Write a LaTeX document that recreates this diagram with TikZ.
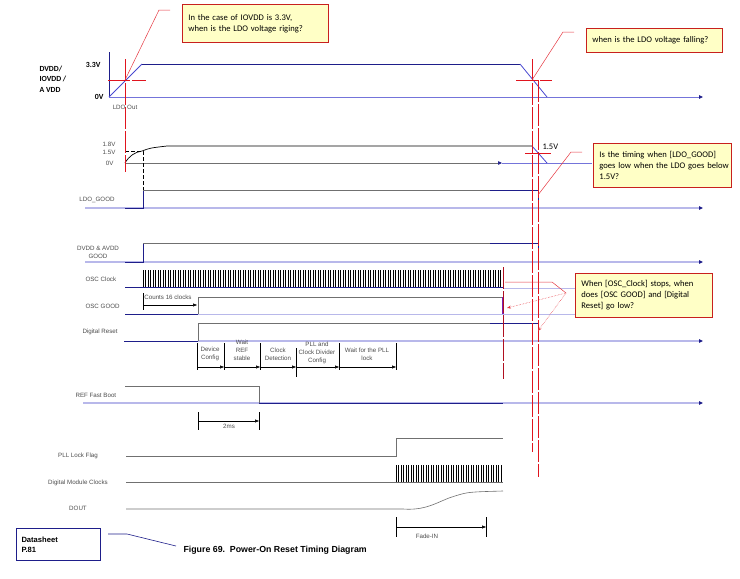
\documentclass[tikz,border=0pt]{standalone}
\usepackage{fontspec}
\setmainfont{Carlito}
\newfontfamily\arialfont{Liberation Sans}
\usetikzlibrary{arrows.meta}

\definecolor{sigblue}{HTML}{1E1E8A}
\definecolor{rampblue}{HTML}{4848D0}
\definecolor{axisblue}{HTML}{7474DA}
\definecolor{baseblue}{HTML}{B8B8EA}
\definecolor{hiline}{HTML}{707070}
\definecolor{markred}{HTML}{E0141E}
\definecolor{darkmark}{HTML}{B01020}
\definecolor{notefill}{HTML}{FFFFC6}
\definecolor{notered}{HTML}{C8201E}
\definecolor{edgeviolet}{HTML}{7A1FB0}

\tikzset{
  note/.style={draw=notered, fill=notefill, line width=0.8pt, anchor=north west,
    align=left, inner xsep=6pt, font=\fontsize{8.6}{11}\selectfont},
  sig/.style={font=\arialfont\fontsize{6.2}{8}\selectfont, text=black!70, align=center},
  hi/.style={draw=hiline, line width=0.6pt},
  lo/.style={draw=sigblue, line width=0.8pt},
  base/.style={draw=baseblue, line width=1.3pt,
    -{Triangle[color=sigblue,length=4pt,width=3.5pt]}},
  redmark/.style={draw=markred, line width=0.9pt, dash pattern=on 22pt off 2pt},
  leader/.style={draw=markred!85, line width=0.5pt},
  span/.style={line width=0.5pt, -{Triangle[length=4pt,width=3pt]}},
}

\begin{document}
\begin{tikzpicture}[x=1pt,y=-1pt]
    \useasboundingbox (0,0) rectangle (740,579);

    % supply
    \node[anchor=north west, align=left, font=\bfseries\fontsize{7.8}{10.5}\selectfont] (supply) at (36,62) {DVDD/\\IOVDD /\\A VDD};
    \node[anchor=east, font=\bfseries\fontsize{7.8}{8}\selectfont] (top) at (104,65) {3.3V};
    \node[anchor=east, font=\bfseries\fontsize{7.8}{8}\selectfont] (zero) at (107,97) {0V};
    \node[sig] (ldoout) at (125,107) {LDO Out};
    \draw[sigblue, line width=0.8pt] (109,52) -- (109,97);
    \draw[axisblue, line width=0.8pt, -{Triangle[color=sigblue,length=4pt,width=3.5pt]}] (109,97) -- (703,97);
    \draw[rampblue, line width=0.8pt] (109,97) -- (142,64);
    \draw[sigblue, line width=0.9pt] (142,64) -- (520,64);
    \draw[rampblue, line width=0.8pt] (520,64) -- (547,97);

    % ldo
    \node[sig, anchor=east] (v18) at (119,144) {1.8V};
    \node[sig, anchor=east] (v15) at (119,152) {1.5V};
    \node[sig, anchor=east] (v0) at (117,163) {0V};
    \draw[hiline, line width=0.6pt, -{Triangle[color=sigblue,length=4pt,width=3.5pt]}] (125,163) -- (502,163);
    \draw[axisblue, line width=0.6pt] (502,163) -- (592,163);
    \draw[line width=0.7pt] (125,163) .. controls (129,156) and (135,152) .. (142,151) .. controls (150,148) .. (167,146) -- (532,146);
    \draw[rampblue, line width=0.8pt] (532,146) -- (547,163);
    \draw[line width=1pt, dash pattern=on 4pt off 2pt] (125,151) -- (143,151) -- (143,190);
    \node[anchor=west, font=\fontsize{8.5}{9}\selectfont] (fall15) at (539,147) {1.5V};

    % ldo good
    \node[sig] (ldogood) at (97,200) {LDO\_GOOD};
    \draw[base] (85,208) -- (703,208);
    \draw[lo] (125,208) -- (143,208) -- (143,190);
    \draw[hi] (143,190) -- (490,190);
    \draw[lo] (490,190) -- (538,190) -- (538,208);

    % dvdd good
    \node[sig] (dvddgood) at (98,252) {DVDD \& AVDD\\GOOD};
    \draw[base] (85,262) -- (703,262);
    \draw[lo] (125,262) -- (143,262) -- (143,243);
    \draw[hi] (143,243) -- (490,243);
    \draw[lo] (490,243) -- (538,243) -- (538,262);

    % osc clock
    \node[sig, anchor=west] (oscclk) at (82,279) {OSC Clock};
    \draw[baseblue, line width=1pt] (503,288) -- (575,288);
    \draw[lo] (125,287) -- (503,287);
    \foreach \i in {0,...,143}
        \draw[line width=0.8pt] ({143+2.5*\i},270) -- ++(0,17);

    % osc good
    \node[sig, anchor=west] (oscgood) at (82,306) {OSC GOOD};
    \draw[baseblue, line width=1pt] (198,314) -- (575,314);
    \draw[lo] (125,314) -- (198,314);
    \draw[hi] (198,314) -- (198,297) -- (503,297);
    \draw[edgeviolet, line width=1.4pt] (503,297) -- (503,314);
    \node[sig] (counts) at (168,297) {Counts 16 clocks};
    \draw[line width=0.5pt] (143,293) -- (143,310);
    \draw[span] (143,305) -- (197,305);

    % digital reset
    \node[sig, anchor=west] (digreset) at (79,332) {Digital Reset};
    \draw[base] (198,341) -- (703,341);
    \draw[lo] (124,341) -- (198,341);
    \draw[hi] (198,341) -- (198,323) -- (490,323);
    \draw[lo] (490,323) -- (538,323) -- (538,341);

    % boot phases
    \foreach \x in {197,224,260,339,396}
        \draw[line width=0.5pt] (\x,343) -- (\x,370);
    \draw[line width=1pt] (296,348) -- (296,377);
    \foreach \a/\b in {197/224,224/260,260/296,296/339,339/396}
        \draw[span] (\a,367) -- (\b,367);
    \node[sig] (devcfg) at (210,354) {Device\\Config};
    \node[sig] (waitref) at (242,350) {Wait\\REF\\stable};
    \node[sig] (clkdet) at (278,354) {Clock\\Detection};
    \node[sig] (pllcfg) at (317,353) {PLL and\\Clock Divider\\Config};
    \node[sig] (pllwait) at (367,354) {Wait for the PLL\\lock};

    % ref fast boot
    \node[sig, anchor=west] (refboot) at (72,395) {REF Fast Boot};
    \draw[base] (83,403) -- (703,403);
    \draw[hi] (125,386) -- (259,386) -- (259,403);
    \draw[lo] (259,403) -- (503,403);
    \draw[line width=0.5pt] (198,412) -- (198,430);
    \draw[line width=0.5pt] (259,412) -- (259,430);
    \draw[span] (198,421) -- (259,421);
    \node[sig] (twoms) at (229,426) {2ms};

    % pll and outputs
    \node[sig] (plllock) at (78,456) {PLL Lock Flag};
    \draw[hi] (126,456) -- (396,456) -- (396,438) -- (503,438);
    \node[sig] (modclk) at (78,483) {Digital Module Clocks};
    \draw[hi] (126,482) -- (503,482);
    \foreach \i in {0,...,42}
        \draw[line width=0.8pt] ({396+2.5*\i},465) -- ++(0,17);
    \node[sig] (dout) at (78,508) {DOUT};
    \draw[hi] (126,509) -- (403,509) .. controls (428,511) and (440,500) .. (455,496) .. controls (468,492) .. (503,491);
    \draw[line width=0.5pt] (396,517) -- (396,537);
    \draw[line width=0.5pt] (486,517) -- (486,537);
    \draw[span] (396,527) -- (486,527);
    \node[sig] (fadein) at (427,536) {Fade-IN};

    % markers
    \coordinate (rise) at (125,80);
    \coordinate (fall) at (532,80);
    \coordinate (ldolow) at (538,195);
    \coordinate (apex) at (566,293);
    \draw[redmark] (125,59) -- (125,172);
    \draw[redmark] (108,80) -- (146,80);
    \draw[redmark] (532,59) -- (532,452);
    \draw[redmark] (516,80) -- (552,80);
    \draw[redmark] (538,80) -- (538,477);
    \draw[markred, line width=0.9pt] (525,153) -- (551,153);
    \draw[draw=darkmark, line width=0.9pt, dash pattern=on 22pt off 2pt] (503,267) -- (503,379);

    % notes
    \node[note, text width=134pt, minimum height=38pt] (riseq) at (182,4) {In the case of IOVDD is 3.3V,\\when is the LDO voltage riging?};
    \node[note, text width=124pt, minimum height=24pt] (fallq) at (586,28) {when is the LDO voltage falling?};
    \node[note, text width=126pt, minimum height=44pt] (goodq) at (593,143) {Is the timing when [LDO\_GOOD]\\\mbox{goes low when the LDO goes below}\\1.5V?};
    \node[note, text width=125pt, minimum height=44pt] (oscq) at (575,273) {When [OSC\_Clock] stops, when\\does [OSC GOOD] and [Digital\\Reset] go low?};

    \draw[leader] (riseq.north west) ++(-12,6) -- ++(-11,0) -- (rise);
    \draw[leader] (fallq.north west) ++(-12,4) -- ++(-11,0) -- (fall);
    \draw[leader] (goodq.north west) ++(-11,9) -- ++(-11,0) -- (ldolow);
    \draw[leader] (505,282) -- (552,282) -- (apex);
    \draw[leader, densely dotted, -{Stealth[length=4pt]}] (apex) -- (507,308);
    \draw[leader, densely dotted, -{Stealth[length=4pt]}] (apex) -- (538,331);

    % caption
    \node[draw=sigblue, line width=1pt, anchor=north west, minimum width=84pt, minimum height=32pt,
        text width=74pt, inner xsep=5pt, align=left, font=\arialfont\bfseries\fontsize{7.6}{10}\selectfont] (sheet) at (16,528) {Datasheet\\P.81};
    \node[anchor=west, font=\arialfont\bfseries\fontsize{8.8}{10}\selectfont] (caption) at (180,550) {Figure 69.\ \ Power-On Reset Timing Diagram};
    \draw[sigblue, line width=0.6pt] (sheet.north east) ++(7,6) -- ++(19,0) -- ([xshift=-4pt,yshift=4pt]caption.west);
\end{tikzpicture}
\end{document}
